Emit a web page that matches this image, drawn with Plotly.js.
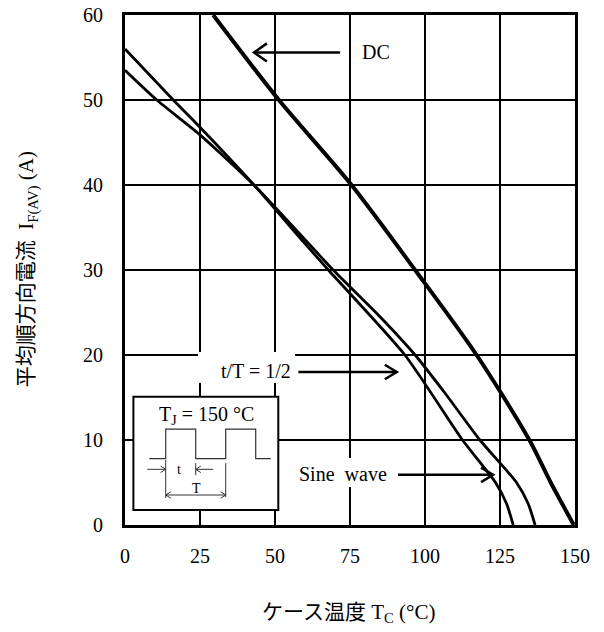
<!DOCTYPE html>
<html><head><meta charset="utf-8">
<script src="https://cdn.plot.ly/plotly-3.0.1.min.js"></script>
<style>html,body{margin:0;padding:0;background:#fff}</style>
</head><body><div id="chart" style="width:604px;height:632px"></div>
<script>
// ---- data ----
const xTicks = [0, 25, 50, 75, 100, 125, 150];
const yTicks = [0, 10, 20, 30, 40, 50, 60];
const tcDC   = [29.4, 51.3, 75.5, 96.7, 117.2, 134.8, 141.9, 149.6];
const ifDC   = [60, 50, 40, 30, 20, 10, 5, 0];
const tcSine = [0, 16.1, 25, 43, 59.5, 67.8, 93.3, 112.5, 123.5, 127.2, 129.4];
const ifSine = [56, 50, 46.8, 40, 33.3, 30, 20, 10, 5, 2.5, 0];
const tcHalf = [0, 10.6, 25, 43, 69.4, 85, 96.7, 106.7, 118.3, 130.5, 134.4, 136.7];
const ifHalf = [53.5, 50, 45.9, 40, 30, 24.5, 20, 15.5, 10, 5, 2.5, 0];

const FONT = 'Liberation Serif, Times New Roman, Noto Sans CJK JP, serif';

function curve(x, y, w, sm) {
  return {x: x, y: y, type: 'scatter', mode: 'lines',
          line: {color: '#000', width: w, shape: 'spline', smoothing: sm},
          hoverinfo: 'skip'};
}
const traces = [curve(tcDC, ifDC, 4, 0.8), curve(tcSine, ifSine, 2.8, 0.6), curve(tcHalf, ifHalf, 2.8, 0.6)];

const shapes = [];
function rect(x0, x1, y0, y1, lw) {
  shapes.push({type: 'rect', xref: 'x', yref: 'y', x0: x0, x1: x1, y0: y0, y1: y1,
               fillcolor: '#fff', line: {color: '#000', width: lw}, layer: 'above'});
}
function seg(x0, y0, x1, y1, w, c) {
  shapes.push({type: 'line', xref: 'x', yref: 'y', x0: x0, y0: y0, x1: x1, y1: y1,
               line: {color: c || '#000', width: w}, layer: 'above'});
}
function head(xh, y, dir, ax, ay, w, c) {
  shapes.push({type: 'path', xref: 'x', yref: 'y', layer: 'above',
    path: 'M' + (xh - dir * ax) + ',' + (y + ay) + ' L' + xh + ',' + y + ' L' + (xh - dir * ax) + ',' + (y - ay),
    line: {color: c || '#000', width: w}});
}
function arrow(xt, xh, y, w, ax, ay, c) {
  seg(xt, y, xh, y, w, c);
  head(xh, y, Math.sign(xh - xt), ax, ay, w, c);
}

// white label backgrounds
rect(24.3, 56.7, 16.7, 20.35, 0);
rect(55, 90, 4.47, 7.88, 0);
// inset box
rect(2.8, 51.1, 1.76, 15.1, 2);
// waveform
shapes.push({type: 'path', xref: 'x', yref: 'y', layer: 'above',
  path: 'M8.1,7.8 L13.57,7.8 L13.57,11.29 L23.57,11.29 L23.57,7.8 L33.57,7.8 L33.57,11.29 L43.57,11.29 L43.57,7.8 L48.57,7.8',
  line: {color: '#333', width: 1.2}});
seg(13.57, 7.65, 13.57, 3.18, 1, '#333');
seg(23.57, 7.29, 23.57, 5.88, 1, '#333');
seg(33.57, 7.29, 33.57, 3.29, 1, '#333');
arrow(7.43, 13.57, 6.55, 1, 1.7, 0.38, '#333');
arrow(29.4, 23.57, 6.55, 1, 1.7, 0.38, '#333');
arrow(23.57, 13.57, 3.53, 1, 1.7, 0.38, '#333');
arrow(23.57, 33.57, 3.53, 1, 1.7, 0.38, '#333');
// label arrows
arrow(71.7, 43, 55.6, 2.5, 4.3, 1.06);
arrow(57.8, 90.6, 18.0, 2.5, 4.0, 0.85);
arrow(91, 122.7, 5.9, 2.5, 4.0, 0.85);

function txt(x, y, t, size, xa) {
  return {x: x, y: y, xref: 'x', yref: 'y', text: t, showarrow: false,
          xanchor: xa || 'center', yanchor: 'middle', font: {family: FONT, size: size, color: '#000'}};
}
const annotations = [
  txt(83.7, 55.6, 'DC', 20),
  txt(56, 18.1, 't/T = 1/2', 20, 'right'),
  txt(88, 6.0, 'Sine&nbsp; wave', 20, 'right'),
  txt(27, 12.94, 'T<sub>J</sub> = 150 °C', 20),
  txt(18.1, 6.5, 't', 14),
  txt(23.67, 4.35, 'T', 14),
  {xref: 'paper', yref: 'paper', x: 0.496, y: -0.172, text: 'ケース温度 T<sub>C</sub> (°C)',
   showarrow: false, xanchor: 'center', yanchor: 'middle', font: {family: FONT, size: 21, color: '#000'}},
  {xref: 'paper', yref: 'paper', x: -0.215, y: 0.502, text: '平均順方向電流&nbsp; I<sub>F(AV)</sub> (A)',
   textangle: -90, showarrow: false, xanchor: 'center', yanchor: 'middle', font: {family: FONT, size: 21, color: '#000'}}
];

const axisCommon = {showgrid: true, gridcolor: '#000', gridwidth: 2, showline: true, mirror: true,
  linecolor: '#000', linewidth: 3, zeroline: false, ticks: '', fixedrange: true,
  tickfont: {family: FONT, size: 20, color: '#000', weight: 'normal'}};

const layout = {
  width: 604, height: 632,
  margin: {l: 125, r: 29, t: 15, b: 107},
  paper_bgcolor: '#fff', plot_bgcolor: '#fff', showlegend: false,
  font: {family: FONT, color: '#000', size: 20},
  xaxis: Object.assign({}, axisCommon, {range: [0, 150], tickvals: xTicks, ticktext: xTicks.map(String), ticklabelstandoff: 11}),
  yaxis: Object.assign({}, axisCommon, {range: [0, 60], tickvals: yTicks, ticktext: yTicks.map(String), ticklabelstandoff: 15}),
  shapes: shapes,
  annotations: annotations
};

Plotly.newPlot('chart', traces, layout, {staticPlot: true, displayModeBar: false});
</script>
</body></html>
